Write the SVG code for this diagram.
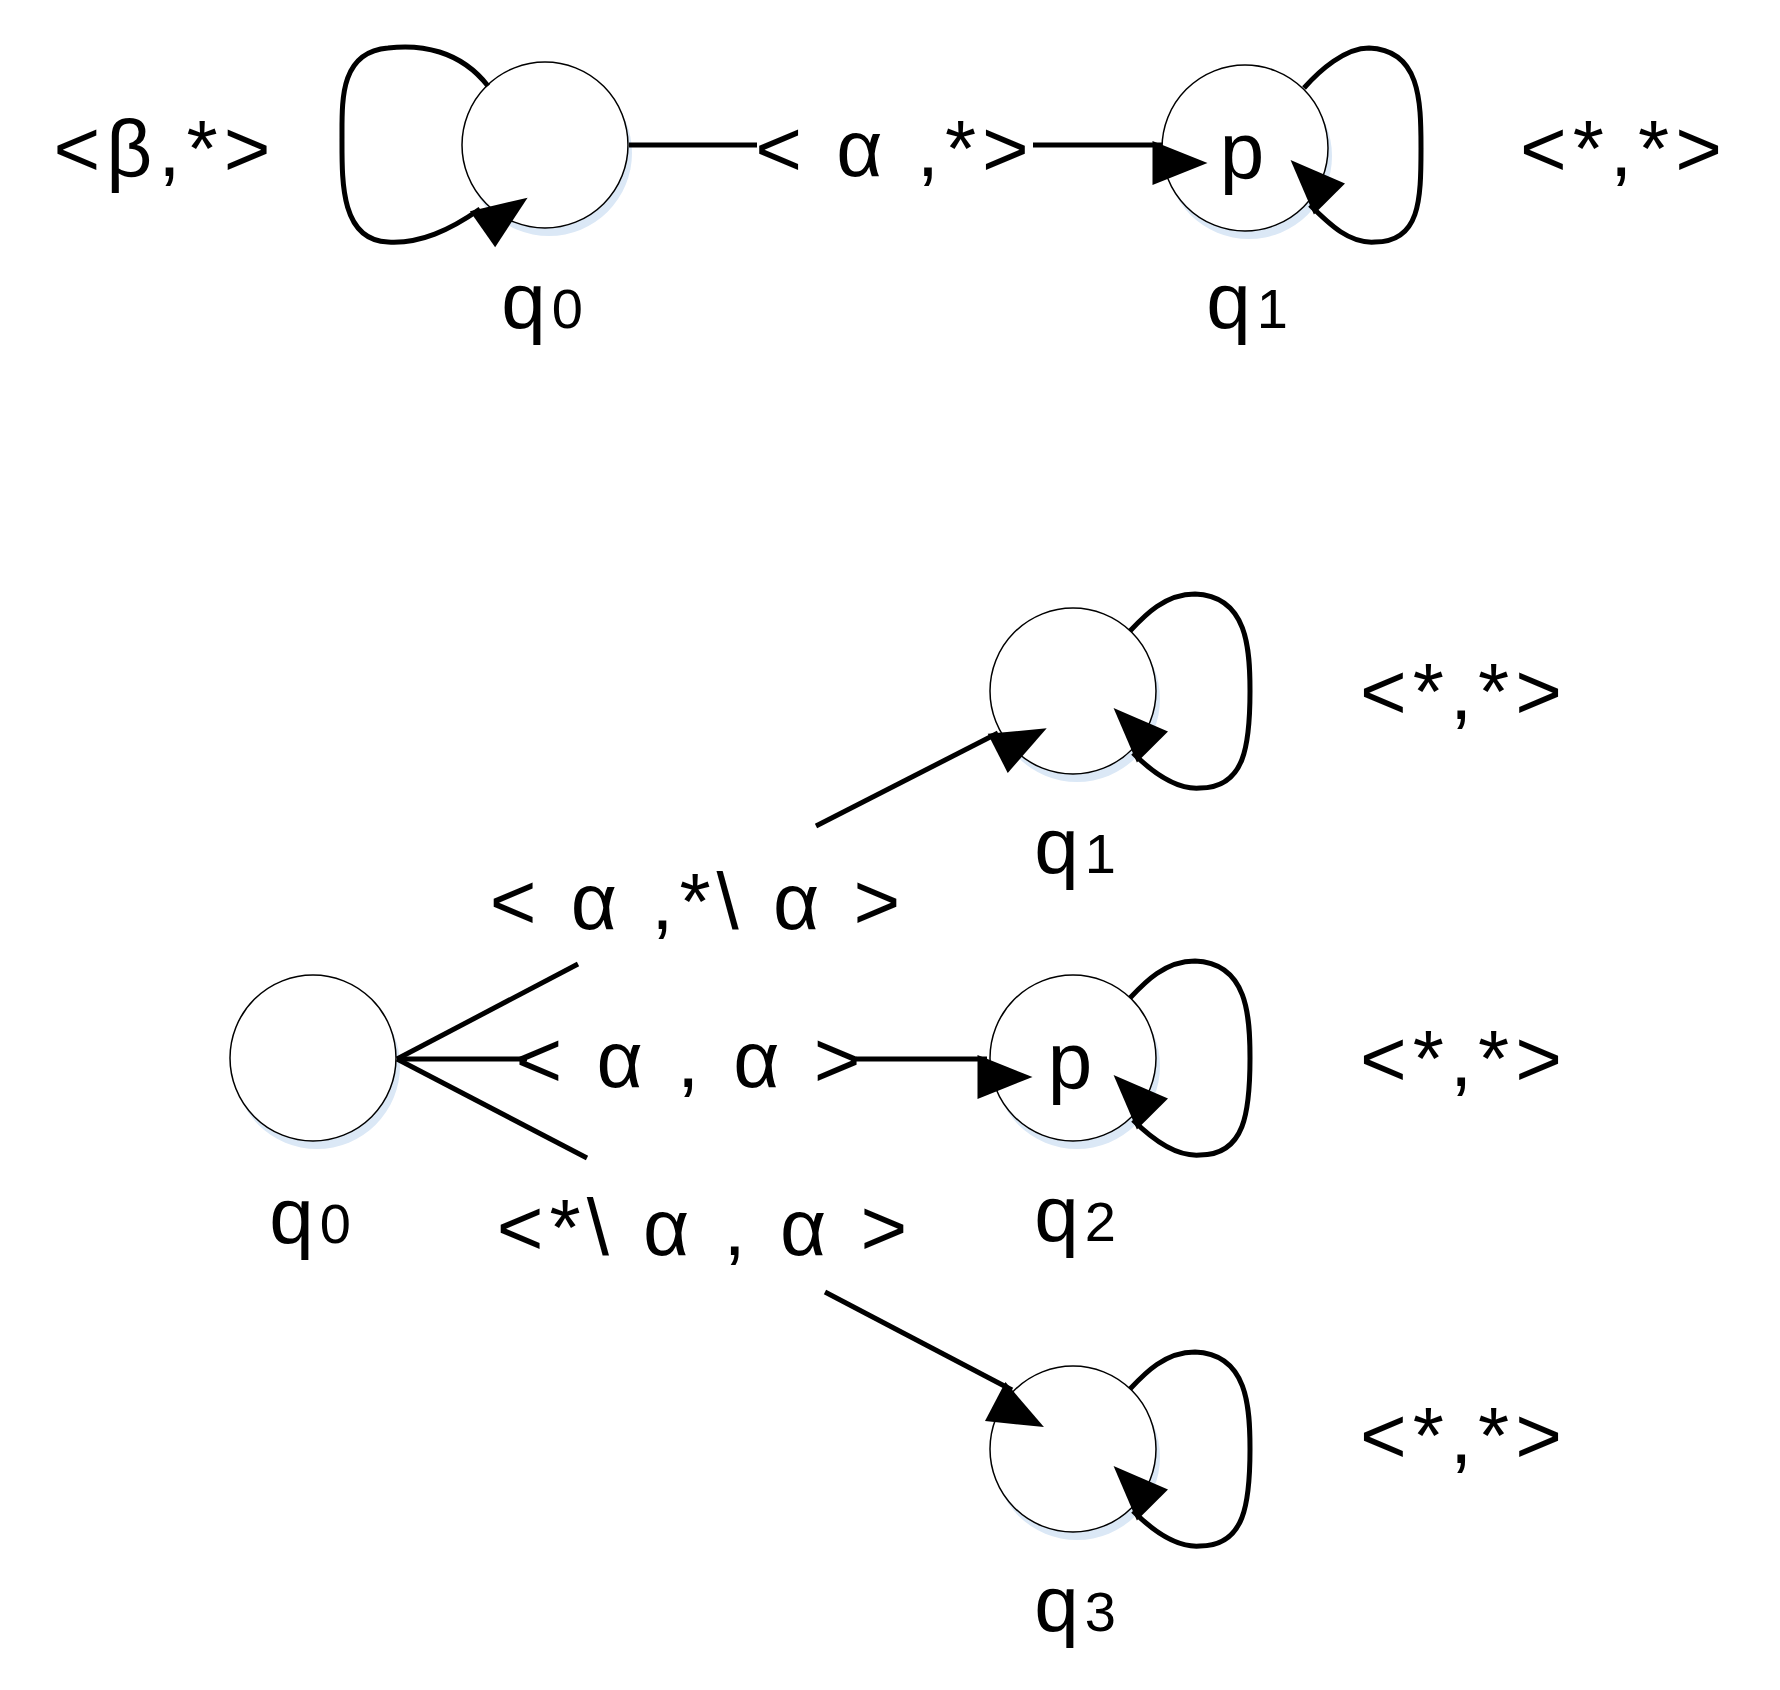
<svg xmlns="http://www.w3.org/2000/svg" width="1780" height="1690" viewBox="0 0 1780 1690">
<style>
text{font-family:"Liberation Sans",Arial,sans-serif;font-size:80px;fill:#000;text-anchor:middle;dominant-baseline:central;letter-spacing:6px}
.sub{font-size:56px}
.st{fill:#fff;stroke:#000;stroke-width:1.5}
.sh{fill:#dbe8f6}
.e{fill:none;stroke:#000;stroke-width:5}
</style>
<defs>
<marker id="a" markerWidth="10" markerHeight="8" refX="9.5" refY="4" orient="auto" markerUnits="userSpaceOnUse" viewBox="0 0 10 8" style="overflow:visible">
<path d="M0,0 L10,4 L0,8 Z" transform="scale(5.5)" fill="#000"/>
</marker>
</defs>
<g id="top-q0"><circle class="sh" cx="549" cy="153" r="83"/><circle class="st" cx="545" cy="145" r="83"/><text x="545" y="300">q<tspan class="sub" dy="8">0</tspan></text></g>
<g id="top-q1"><circle class="sh" cx="1249" cy="156" r="83"/><circle class="st" cx="1245" cy="148" r="83"/><text x="1245" y="150">p</text><text x="1250" y="300">q<tspan class="sub" dy="8">1</tspan></text></g>
<g id="b-q0"><circle class="sh" cx="317" cy="1066" r="83"/><circle class="st" cx="313" cy="1058" r="83"/><text x="313" y="1215">q<tspan class="sub" dy="8">0</tspan></text></g>
<g id="b-q1"><circle class="sh" cx="1077" cy="699" r="83"/><circle class="st" cx="1073" cy="691" r="83"/><text x="1078" y="845">q<tspan class="sub" dy="8">1</tspan></text></g>
<g id="b-q2"><circle class="sh" cx="1077" cy="1066" r="83"/><circle class="st" cx="1073" cy="1058" r="83"/><text x="1073" y="1060">p</text><text x="1078" y="1213">q<tspan class="sub" dy="8">2</tspan></text></g>
<g id="b-q3"><circle class="sh" cx="1077" cy="1457" r="83"/><circle class="st" cx="1073" cy="1449" r="83"/><text x="1078" y="1603">q<tspan class="sub" dy="8">3</tspan></text></g>
<g id="connectors">
<path class="e" d="M488,86 C460,50 420,44 388,48 C340,52 342,100 342,137 C342,180 340,240 388,242 C420,244 450,230 480,209" marker-end="url(#a)"/>
<path class="e" d="M1304,88 C1320,70 1345,48 1369,48 C1420,50 1421,100 1421,148 C1421,200 1420,242 1375,242 C1350,244 1330,225 1310,205" marker-end="url(#a)"/>
<path class="e" d="M629,145 H757"/>
<path class="e" d="M1033,145 H1162" marker-end="url(#a)"/>
<path class="e" d="M397,1059 L578,964"/>
<path class="e" d="M816,826 L998,733" marker-end="url(#a)"/>
<path class="e" d="M397,1059 H527"/>
<path class="e" d="M856,1059 H987" marker-end="url(#a)"/>
<path class="e" d="M397,1059 L587,1158"/>
<path class="e" d="M825,1292 L1012,1390" marker-end="url(#a)"/>
<path class="e" d="M1130,631 C1145,615 1165,594 1195,594 C1248,596 1250,650 1250,691 C1250,745 1245,788 1200,788 C1175,790 1150,770 1133,753" marker-end="url(#a)"/>
<path class="e" d="M1130,998 C1145,982 1165,961 1195,961 C1248,963 1250,1017 1250,1058 C1250,1112 1245,1155 1200,1155 C1175,1157 1150,1137 1133,1120" marker-end="url(#a)"/>
<path class="e" d="M1130,1389 C1145,1373 1165,1352 1195,1352 C1248,1354 1250,1408 1250,1449 C1250,1503 1245,1546 1200,1546 C1175,1548 1150,1528 1133,1511" marker-end="url(#a)"/>
</g>
<g id="labels">
<text x="165" y="148">&lt;β,*&gt;</text>
<text x="895" y="148">&lt; α ,*&gt;</text>
<text x="1624" y="148">&lt;*,*&gt;</text>
<text x="698" y="901">&lt; α ,*\ α &gt;</text>
<text x="691" y="1059">&lt; α , α &gt;</text>
<text x="705" y="1227">&lt;*\ α , α &gt;</text>
<text x="1464" y="691">&lt;*,*&gt;</text>
<text x="1464" y="1058">&lt;*,*&gt;</text>
<text x="1464" y="1435">&lt;*,*&gt;</text>
</g>
</svg>
